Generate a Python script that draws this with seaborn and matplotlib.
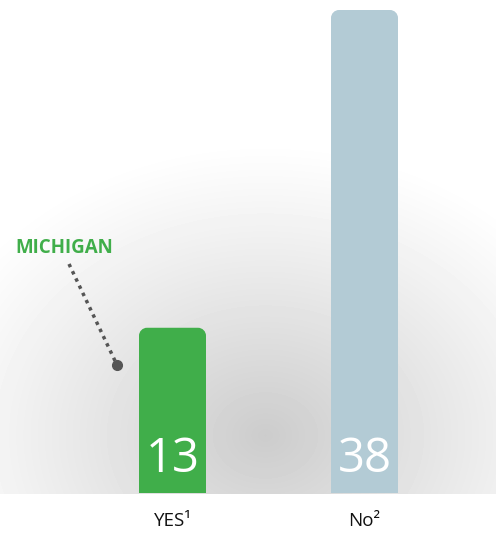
import numpy as np
import pandas as pd
import matplotlib
matplotlib.use("Agg")
import matplotlib.pyplot as plt
from matplotlib.path import Path
from matplotlib.patches import PathPatch
import seaborn as sns

categories = ["YES\u00b9", "No\u00b2"]
values = [13, 38]
bar_colors = ["#40ae4a", "#b3cbd5"]
callout_text = "MICHIGAN"

sns.set_theme(style="white")
plt.rcParams["font.family"] = ["Open Sans", "DejaVu Sans"]

W, H = 496, 556
fig = plt.figure(figsize=(W / 100, H / 100), dpi=100)
fig.patch.set_facecolor("white")

# soft radial shading behind the bars, ending at the baseline
base_px = 493
bg = fig.add_axes([0, 0, 1, 1], zorder=0)
yy, xx = np.mgrid[0:H, 0:W]
d = np.sqrt(((xx - 265) / 360.0) ** 2 + ((yy - 435) / 295.0) ** 2)
shade = 1 - 0.20 * np.clip(1 - d, 0, 1) ** 1.1
shade[yy > base_px] = 1.0
bg.imshow(shade, cmap="gray", vmin=0, vmax=1, extent=[0, W, H, 0], aspect="auto",
          interpolation="bilinear")
bg.set_xlim(0, W)
bg.set_ylim(H, 0)
bg.axis("off")

# main bar axes
bottom = (H - base_px) / H
ax = fig.add_axes([0, bottom, 1, 1 - bottom], zorder=1)
ax.patch.set_alpha(0)
df = pd.DataFrame({"cat": categories, "val": values})
sns.barplot(data=df, x="cat", y="val", hue="cat", palette=bar_colors,
            width=67 / 192, legend=False, ax=ax, saturation=1)

px_per_unit = 483 / 38
ax.set_ylim(0, base_px / px_per_unit)
ax.set_xlim(-172.5 / 192, 1 + (W - 364.5) / 192)

# swap the plain rectangles for bars with rounded top corners
r_px = 8
for p in list(ax.patches):
    x0, y0 = p.get_x(), p.get_y()
    w, h = p.get_width(), p.get_height()
    col = p.get_facecolor()
    rx = r_px / 192
    ry = r_px / px_per_unit
    k = 0.5523
    verts = [
        (x0, y0), (x0 + w, y0), (x0 + w, y0 + h - ry),
        (x0 + w, y0 + h - ry + k * ry), (x0 + w - rx + k * rx, y0 + h), (x0 + w - rx, y0 + h),
        (x0 + rx, y0 + h),
        (x0 + rx - k * rx, y0 + h), (x0, y0 + h - ry + k * ry), (x0, y0 + h - ry),
        (x0, y0),
    ]
    codes = [Path.MOVETO, Path.LINETO, Path.LINETO,
             Path.CURVE4, Path.CURVE4, Path.CURVE4,
             Path.LINETO,
             Path.CURVE4, Path.CURVE4, Path.CURVE4,
             Path.CLOSEPOLY]
    ax.add_patch(PathPatch(Path(verts, codes), facecolor=col, edgecolor="none", zorder=2))
    p.remove()

# value labels inside bars
for i, v in enumerate(values):
    ax.text(i, 21 / px_per_unit, str(v), ha="center", va="baseline", color="white",
            fontsize=34, fontweight="normal", zorder=3)

for s in ax.spines.values():
    s.set_visible(False)
ax.set_yticks([])
ax.set_xlabel("")
ax.set_ylabel("")
ax.tick_params(axis="x", length=0, pad=14, labelsize=13.5, labelcolor="#111111")

# callout for the first bar
ov = fig.add_axes([0, 0, 1, 1], zorder=3)
ov.set_xlim(0, W)
ov.set_ylim(H, 0)
ov.axis("off")
ov.plot([69, 117], [264, 365], linestyle=(0, (1, 1.3)), color="#555555", lw=2.5)
ov.plot([117], [365], "o", color="#555555", ms=7)
ov.text(15, 253, callout_text, color="#40ae4a", fontsize=13.5, fontweight="bold",
        ha="left", va="baseline")

fig.savefig("out.png", dpi=100)
